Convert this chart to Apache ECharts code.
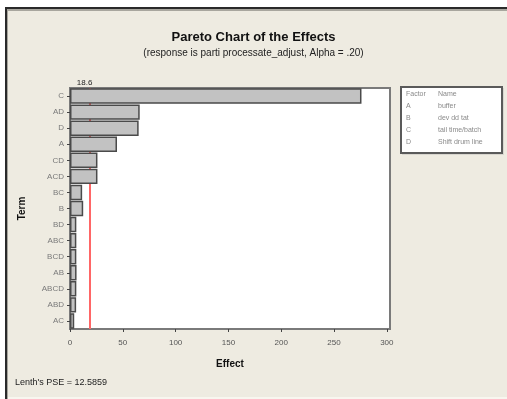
<!DOCTYPE html>
<html>
<head>
<meta charset="utf-8">
<script src="https://cdn.jsdelivr.net/npm/echarts@6/dist/echarts.min.js"></script>
<style>
  html, body { margin: 0; padding: 0; background: #ffffff; }
  #chart { width: 507px; height: 399px; }
</style>
</head>
<body>
<div id="chart"></div>
<script>
// Standardized effects, largest first
const terms = ['C', 'AD', 'D', 'A', 'CD', 'ACD', 'BC', 'B', 'BD', 'ABC', 'BCD', 'AB', 'ABCD', 'ABD', 'AC'];
const effects = [276, 66, 65, 44.5, 26, 26, 11.5, 12.5, 6, 6, 6, 6.2, 6, 5.8, 4];
const criticalEffect = 18.6;
const effectTicks = [0, 50, 100, 150, 200, 250, 300];
const factorRows = [
  ['Factor', 'Name'],
  ['A', 'buffer'],
  ['B', 'dev dd tat'],
  ['C', 'tail time/batch'],
  ['D', 'Shift drum line']
];
const pseText = "Lenth's PSE = 12.5859";

const BG = '#eeebe1';
const FONT = '"Liberation Sans", Arial, sans-serif';

const chart = echarts.init(document.getElementById('chart'), null, { renderer: 'canvas' });

// Factor key table as graphic elements
const keyItems = [];
factorRows.forEach((row, i) => {
  const y = 96 + i * 12;
  keyItems.push({
    type: 'text', left: 406, top: y - 5, z: 20,
    style: { text: row[0], fill: '#8a8a8a', font: '7px ' + FONT }
  });
  keyItems.push({
    type: 'text', left: 438, top: y - 5, z: 20,
    style: { text: row[1], fill: '#8a8a8a', font: '7px ' + FONT }
  });
});

chart.setOption({
  backgroundColor: '#ffffff',
  animation: false,
  title: {
    text: 'Pareto Chart of the Effects',
    subtext: '(response is parti processate_adjust, Alpha = .20)',
    left: 'center',
    top: 26,
    itemGap: 4,
    textStyle: { fontFamily: FONT, fontSize: 13, fontWeight: 'bold', color: '#111' },
    subtextStyle: { fontFamily: FONT, fontSize: 10, color: '#222' }
  },
  graphic: [
    // outer panel
    { type: 'rect', shape: { x: 5, y: 7, width: 502, height: 390 }, style: { fill: BG }, z: -10 },
    { type: 'rect', shape: { x: 5, y: 397, width: 502, height: 2 }, style: { fill: '#f8f6ef' }, z: -10 },
    { type: 'rect', shape: { x: 5, y: 7, width: 502, height: 2 }, style: { fill: '#2a2a2a' }, z: -9 },
    { type: 'rect', shape: { x: 7, y: 9, width: 500, height: 2 }, style: { fill: '#a8a69e' }, z: -9 },
    { type: 'rect', shape: { x: 5, y: 7, width: 2, height: 392 }, style: { fill: '#2a2a2a' }, z: -9 },
    { type: 'rect', shape: { x: 7, y: 9, width: 1, height: 390 }, style: { fill: '#a8a69e' }, z: -9 },
    // factor key box
    { type: 'rect', shape: { x: 402, y: 88, width: 102, height: 67 }, style: { fill: '#d8d6cf' }, z: 10 },
    { type: 'rect', shape: { x: 401, y: 87, width: 101, height: 66 }, style: { fill: '#ffffff', stroke: '#5a5a5a', lineWidth: 2 }, z: 11 },
    ...keyItems,
    {
      type: 'text', left: 15, top: 378, z: 20,
      style: { text: pseText, fill: '#222', font: '9px ' + FONT }
    }
  ],
  grid: {
    left: 70, right: 117, top: 88, bottom: 70,
    show: true,
    backgroundColor: '#ffffff',
    borderColor: '#7a7a7a',
    borderWidth: 2
  },
  xAxis: {
    type: 'value',
    min: 0,
    max: 303,
    interval: 50,
    name: 'Effect',
    nameLocation: 'middle',
    nameGap: 30,
    nameTextStyle: { fontFamily: FONT, fontSize: 10, fontWeight: 'bold', color: '#111' },
    splitLine: { show: false },
    axisLine: { show: true, lineStyle: { color: '#7a7a7a', width: 2 } },
    axisTick: { show: true, length: 3, customValues: effectTicks, lineStyle: { color: '#444' } },
    axisLabel: {
      customValues: effectTicks,
      margin: 10,
      fontFamily: FONT, fontSize: 8, color: '#555'
    }
  },
  yAxis: {
    type: 'category',
    data: terms,
    inverse: true,
    name: 'Term',
    nameLocation: 'middle',
    nameGap: 43,
    nameRotate: 90,
    nameTextStyle: { fontFamily: FONT, fontSize: 10, fontWeight: 'bold', color: '#111' },
    axisLine: { show: true, lineStyle: { color: '#7a7a7a', width: 2 } },
    axisTick: { show: true, length: 3, alignWithLabel: true, lineStyle: { color: '#444' } },
    axisLabel: { margin: 6, fontFamily: FONT, fontSize: 8, color: '#7a7a7a' }
  },
  series: [
    {
      // reference line for the critical effect, drawn behind the bars
      type: 'line',
      data: [],
      z: 1,
      markLine: {
        silent: true,
        z: 1,
        symbol: 'none',
        lineStyle: { color: '#ff6666', width: 2, type: 'solid' },
        label: {
          show: true,
          position: 'start',
          distance: 1,
          offset: [-5, 0],
          formatter: (p) => String(p.value),
          fontFamily: FONT, fontSize: 8, color: '#222'
        },
        data: [{ xAxis: criticalEffect }]
      }
    },
    {
      type: 'bar',
      data: effects,
      z: 3,
      barCategoryGap: '4%',
      itemStyle: { color: '#c2c2c2', borderColor: '#4a4a4a', borderWidth: 1.5 }
    }
  ]
});
</script>
</body>
</html>
